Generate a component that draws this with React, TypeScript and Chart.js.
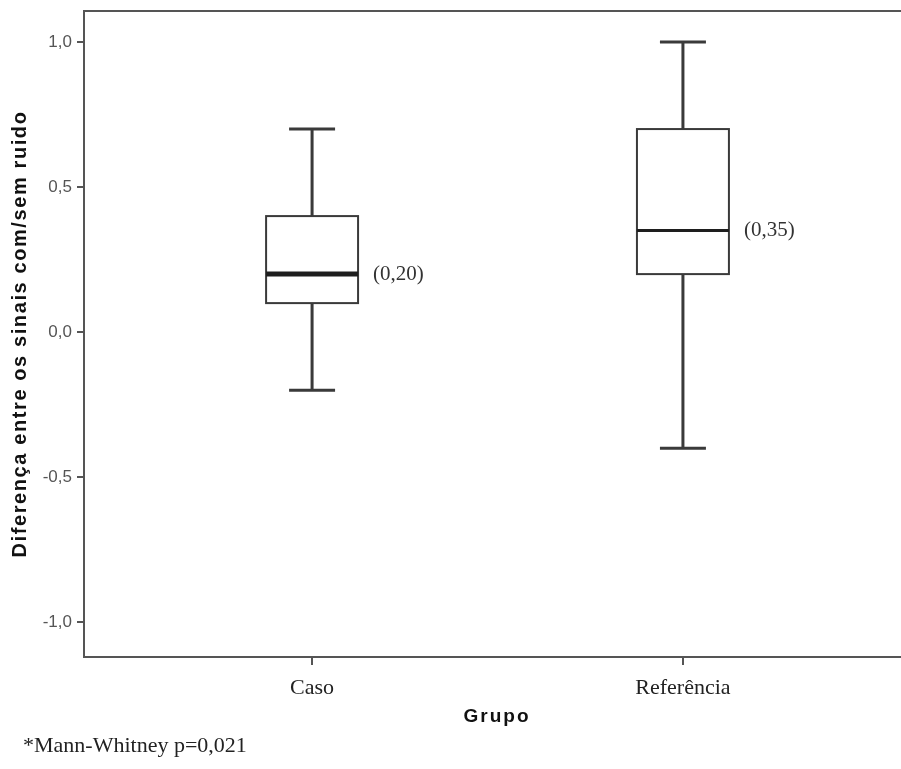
import React, { useEffect, useRef } from "react";
import { Chart, registerables } from "chart.js";

Chart.register(...registerables);

// ---- data ----
const categories = ["Caso", "Referência"];
const whiskerLow = [-0.2, -0.4];
const q1 = [0.1, 0.2];
const median = [0.2, 0.35];
const q3 = [0.4, 0.7];
const whiskerHigh = [0.7, 1.0];
const medianLabels = ["(0,20)", "(0,35)"];
const yTicks = [-1, -0.5, 0, 0.5, 1];
const yTitle = "Diferença entre os sinais com/sem ruido";
const xTitle = "Grupo";
const footnote = "*Mann-Whitney p=0,021";

// ---- styles ----
const LINE = "#3a3a3a";
const AXIS = "#555555";
const SERIF = "'Liberation Serif', 'Times New Roman', serif";
const SANS = "'Liberation Sans', Arial, sans-serif";
const BOX_HALF = 0.124; // half box width in x-units
const CAP_HALF = 0.062;
const medianWidths = [5, 3];

const boxPlugin = {
  id: "boxplotDraw",
  afterDatasetsDraw(chart: any) {
    const { ctx, chartArea, scales } = chart;
    const x = scales.x;
    const y = scales.y;
    ctx.save();
    // top border
    ctx.strokeStyle = AXIS;
    ctx.lineWidth = 2;
    ctx.beginPath();
    ctx.moveTo(chartArea.left - 1, chartArea.top);
    ctx.lineTo(chartArea.right, chartArea.top);
    ctx.stroke();

    categories.forEach((_, i) => {
      const cx = x.getPixelForValue(i + 1);
      const bl = x.getPixelForValue(i + 1 - BOX_HALF);
      const br = x.getPixelForValue(i + 1 + BOX_HALF);
      const cl = x.getPixelForValue(i + 1 - CAP_HALF);
      const cr = x.getPixelForValue(i + 1 + CAP_HALF);
      const yLo = y.getPixelForValue(whiskerLow[i]);
      const yQ1 = y.getPixelForValue(q1[i]);
      const yMed = y.getPixelForValue(median[i]);
      const yQ3 = y.getPixelForValue(q3[i]);
      const yHi = y.getPixelForValue(whiskerHigh[i]);

      // whiskers
      ctx.strokeStyle = LINE;
      ctx.lineWidth = 3;
      ctx.beginPath();
      ctx.moveTo(cx, yHi);
      ctx.lineTo(cx, yQ3);
      ctx.moveTo(cx, yQ1);
      ctx.lineTo(cx, yLo);
      ctx.moveTo(cl, yHi);
      ctx.lineTo(cr, yHi);
      ctx.moveTo(cl, yLo);
      ctx.lineTo(cr, yLo);
      ctx.stroke();

      // box
      ctx.lineWidth = 2;
      ctx.fillStyle = "#ffffff";
      ctx.fillRect(bl, yQ3, br - bl, yQ1 - yQ3);
      ctx.strokeRect(bl, yQ3, br - bl, yQ1 - yQ3);

      // median
      ctx.strokeStyle = "#1e1e1e";
      ctx.lineWidth = medianWidths[i];
      ctx.beginPath();
      ctx.moveTo(bl, yMed);
      ctx.lineTo(br, yMed);
      ctx.stroke();

      // median label
      ctx.fillStyle = "#333333";
      ctx.font = `21px ${SERIF}`;
      ctx.textAlign = "left";
      ctx.textBaseline = "middle";
      ctx.fillText(medianLabels[i], br + 15, yMed);
    });

    // y title
    ctx.fillStyle = "#111111";
    ctx.font = `bold 20px ${SANS}`;
    (ctx as any).letterSpacing = "1.6px";
    ctx.textAlign = "center";
    ctx.textBaseline = "middle";
    ctx.translate(20, (chartArea.top + chartArea.bottom) / 2);
    ctx.rotate(-Math.PI / 2);
    ctx.fillText(yTitle, 0, 0);
    ctx.setTransform(1, 0, 0, 1, 0, 0);

    // x title
    (ctx as any).letterSpacing = "2px";
    ctx.font = `bold 19px ${SANS}`;
    ctx.fillText(xTitle, 497, 717);

    // footnote
    (ctx as any).letterSpacing = "0px";
    ctx.fillStyle = "#222222";
    ctx.font = `22px ${SERIF}`;
    ctx.textAlign = "left";
    ctx.fillText(footnote, 23, 746);
    ctx.restore();
  },
};

export default function App() {
  const ref = useRef<HTMLCanvasElement | null>(null);
  useEffect(() => {
    if (!ref.current) return;
    const chart = new Chart(ref.current, {
      type: "scatter",
      data: {
        datasets: [
          {
            data: categories.map((_, i) => ({ x: i + 1, y: median[i] })),
            pointRadius: 0,
            showLine: false,
          },
        ],
      },
      options: {
        animation: false,
        responsive: false,
        events: [],
        layout: { padding: { left: 0, top: 11, right: 0, bottom: 0 } },
        plugins: { legend: { display: false }, tooltip: { enabled: false } },
        scales: {
          x: {
            type: "linear",
            min: 0.385,
            max: 2.588,
            afterFit: (s: any) => {
              s.height = 112;
              s.paddingLeft = 0;
              s.paddingRight = 0;
            },
            afterBuildTicks: (s: any) => {
              s.ticks = categories.map((_, i) => ({ value: i + 1 }));
            },
            grid: {
              drawOnChartArea: false,
              drawTicks: true,
              tickLength: 8,
              color: AXIS,
              lineWidth: 2,
            },
            border: { display: true, color: AXIS, width: 2 },
            ticks: {
              padding: 10,
              color: "#222222",
              font: { family: SERIF, size: 22 },
              callback: (v: any) => categories[Math.round(Number(v)) - 1] ?? "",
            },
          },
          y: {
            type: "linear",
            min: -1.12,
            max: 1.107,
            afterFit: (s: any) => {
              s.width = 84;
              s.paddingTop = 0;
              s.paddingBottom = 0;
            },
            afterBuildTicks: (s: any) => {
              s.ticks = yTicks.map((v) => ({ value: v }));
            },
            grid: {
              drawOnChartArea: false,
              drawTicks: true,
              tickLength: 7,
              color: AXIS,
              lineWidth: 2,
            },
            border: { display: true, color: AXIS, width: 2 },
            ticks: {
              padding: 5,
              color: "#555555",
              font: { family: SANS, size: 17 },
              callback: (v: any) => Number(v).toFixed(1).replace(".", ","),
            },
          },
        },
      },
      plugins: [boxPlugin],
    });
    return () => chart.destroy();
  }, []);
  return (
    <div style={{ position: "absolute", left: 0, top: 0, width: 901, height: 769, background: "#fff" }}>
      <canvas ref={ref} width={901} height={769} style={{ display: "block" }} />
    </div>
  );
}
